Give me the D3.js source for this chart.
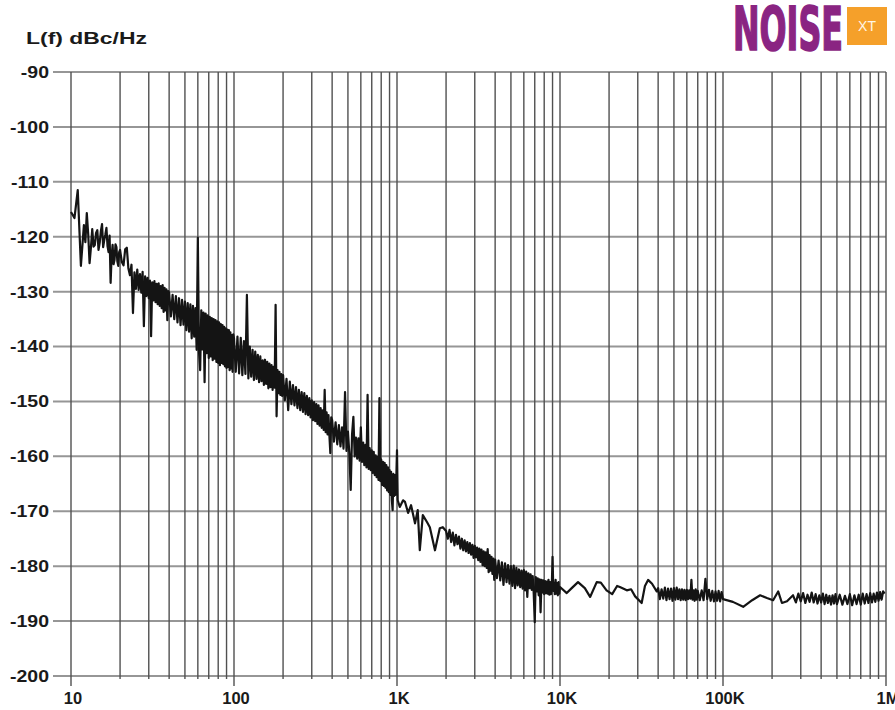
<!DOCTYPE html>
<html>
<head>
<meta charset="utf-8">
<script src="https://cdn.jsdelivr.net/npm/d3@7"></script>
<style>
  body { margin: 0; background: #fff; }
</style>
</head>
<body>
<div id="wrapper"></div>
<script>
// phase noise trace, [offset frequency Hz, L(f) dBc/Hz]
const trace10to100 = [
  [10,-115.5],[10.5,-116.6],[11,-111.5],[11.5,-125.3],[12,-117.9],[12.25,-121.0],[12.5,-115.7],[12.75,-119.5],
  [13,-124.8],[13.25,-122.0],[13.5,-118.6],[13.75,-121.8],[14,-121.5],[14.25,-119.3],[14.5,-118.8],[14.75,-122.4],
  [15,-121.1],[15.25,-119.0],[15.5,-117.7],[15.75,-121.9],[16,-120.6],[16.25,-119.6],[16.5,-118.4],[16.75,-121.7],
  [17,-122.8],[17.25,-119.8],[17.5,-128.4],[17.75,-123.5],[18,-121.5],[18.25,-125.0],[18.5,-124.2],[18.75,-121.4],
  [19,-121.9],[19.25,-124.5],[19.5,-125.3],[19.75,-122.8],[20,-122.4],[20.5,-124.6],[21,-125.2],[21.5,-122.3],
  [22,-122.0],[22.5,-125.8],[23,-127.0],[23.5,-125.1],
  [24,-133.9],[24.5,-126.5],[25,-129.5],[25.5,-126.0],[26,-129.7],[26.5,-126.8],[27,-130.2],[27.5,-126.4],
  [28,-136.3],[28.5,-127.2],[29,-130.8],[29.5,-127.5],[30,-131.2],[30.5,-128.0],[31,-138.1],[31.5,-128.3],
  [32,-131.6],[32.5,-128.1],[33,-131.9],[33.5,-128.6],[34,-132.3],[34.5,-128.5],[35,-132.6],[35.5,-129.0],
  [36,-133.0],[36.5,-128.8],[37,-133.7],[37.5,-129.3],[38,-133.4],[38.5,-129.6],[39,-135.2],[39.5,-129.9],
  [40,-130.2],[41,-134.5],[42,-130.6],[43,-135.0],[44,-130.8],[45,-135.6],[46,-131.2],[47,-136.1],
  [48,-131.5],[49,-136.0],[50,-131.8],[51,-137.0],[52,-132.1],[53,-137.3],[54,-132.3],[55,-138.5],
  [56,-132.6],[57,-138.2],[58,-133.0],[59,-140.6],[60,-120.2],[61,-141.0],[62,-144.3],[63,-133.4],
  [64,-140.5],[65,-133.8],[66,-146.5],[67,-134.0],[68,-141.2],[69,-134.3],[70,-142.1],[71,-134.6],
  [72,-141.8],[73,-134.8],[74,-142.5],[75,-135.0],[76,-142.2],[77,-135.2],[78,-142.8],[79,-135.4],
  [80,-143.0],[81,-135.6],[82,-143.4],[83,-135.9],[84,-143.0],[85,-136.1],[86,-143.2],[87,-136.4],
  [88,-143.6],[89,-136.7],[90,-143.9],[91,-136.9],[92,-143.7],[93,-137.0],[94,-144.3],[95,-137.4],
  [96,-144.0],[97,-137.9],[98,-144.6],[99,-137.8]
]

const trace100to1k = [
  [100,-138.5],[102.5,-144.6],[105,-138.2],[107.5,-144.9],[110,-138.4],[112.5,-145.2],[115,-139.0],[117.5,-145.0],
  [120,-130.6],[122.5,-145.8],[125,-140.0],[127.5,-145.5],[130,-140.6],[132.5,-146.1],[135,-140.9],[137.5,-145.9],
  [140,-141.5],[142.5,-146.5],[145,-141.8],[147.5,-146.3],[150,-142.5],[152.5,-147.0],[155,-142.4],[157.5,-146.8],
  [160,-142.8],[162.5,-147.6],[165,-143.1],[167.5,-147.4],[170,-143.4],[172.5,-147.9],[175,-143.7],[177.5,-147.5],
  [180,-132.4],[182.5,-152.7],[185,-144.3],[187.5,-148.5],[190,-144.6],[192.5,-148.8],[195,-145.0],[197.5,-149.0],
  [200,-145.2],[205,-149.8],[210,-145.9],[215,-151.6],[220,-146.4],[225,-150.5],[230,-147.0],[235,-150.7],
  [240,-147.4],[245,-151.2],[250,-147.9],[255,-151.6],[260,-148.3],[265,-151.9],[270,-148.5],[275,-152.3],
  [280,-149.0],[285,-152.5],[290,-149.4],[295,-152.9],[300,-149.8],[305,-153.4],[310,-150.1],[315,-153.6],
  [320,-150.5],[325,-154.1],[330,-150.7],[335,-154.4],[340,-151.2],[345,-154.8],[350,-151.6],[355,-155.2],
  [360,-147.9],[365,-155.6],[370,-152.0],[375,-156.0],[380,-152.5],[385,-156.3],[390,-159.4],[395,-152.9],
  [400,-153.4],[410,-157.3],[420,-153.8],[430,-157.8],[440,-154.3],[450,-158.2],[460,-154.7],[470,-158.6],
  [480,-148.3],[490,-159.0],[500,-155.5],[510,-159.4],[520,-166.1],[530,-156.0],[540,-152.8],[550,-160.0],
  [560,-156.6],[570,-160.4],[580,-156.7],[590,-160.8],[600,-154.7],[610,-161.0],[620,-157.5],[630,-161.6],
  [640,-157.9],[650,-162.0],[660,-148.8],[670,-162.3],[680,-158.5],[690,-162.5],[700,-158.9],[710,-163.0],
  [720,-159.2],[730,-163.4],[740,-159.8],[750,-163.8],[760,-160.1],[770,-164.3],[780,-149.4],[790,-164.5],
  [800,-160.6],[810,-165.2],[820,-161.0],[830,-165.4],[840,-161.2],[850,-165.7],[860,-161.6],[870,-166.2],
  [880,-162.0],[890,-166.5],[900,-162.5],[910,-167.0],[920,-162.8],[930,-168.0],[940,-169.8],[950,-163.2],
  [960,-167.2],[970,-163.4],[980,-167.0],[990,-164.0],[1000,-158.9],[1010,-168.0]
]

const trace1kto10k = [
  [1040,-169.2],[1090,-168.0],[1120,-168.3],[1170,-170.3],[1220,-168.9],[1290,-172.2],[1340,-169.8],[1380,-177.1],
  [1440,-170.7],[1530,-172.0],[1590,-172.9],[1710,-177.1],[1830,-173.1],[1910,-172.9],
  [2000,-173.6],[2050,-175.0],[2100,-173.4],[2150,-175.6],[2200,-173.9],[2250,-176.2],[2300,-174.3],[2350,-176.0],
  [2400,-174.6],[2450,-176.8],[2500,-175.0],[2550,-177.1],[2600,-175.3],[2650,-177.3],[2700,-175.6],[2750,-177.6],
  [2800,-175.8],[2850,-177.9],[2900,-176.1],[2950,-178.5],[3000,-176.3],[3050,-178.4],[3100,-176.6],[3150,-178.9],
  [3200,-176.8],[3250,-179.2],[3300,-177.0],[3350,-179.8],[3400,-177.3],[3450,-180.0],[3500,-177.5],[3550,-180.3],
  [3600,-176.9],[3650,-181.1],[3700,-178.0],[3750,-180.8],[3800,-178.3],[3850,-181.4],[3900,-178.6],[3950,-182.5],
  [4000,-178.8],[4100,-182.2],[4200,-179.0],[4300,-182.6],[4400,-179.3],[4500,-183.4],[4600,-179.5],[4700,-182.9],
  [4800,-179.8],[4900,-183.2],[5000,-180.0],[5100,-183.6],[5200,-179.9],[5300,-184.0],[5400,-180.3],[5500,-183.5],
  [5600,-180.6],[5700,-183.8],[5800,-180.8],[5900,-184.1],[6000,-180.7],[6100,-184.4],[6200,-181.0],[6300,-185.6],
  [6400,-181.3],[6500,-184.0],[6600,-181.5],[6700,-184.3],[6800,-181.8],[6900,-185.0],[7000,-190.2],[7100,-182.0],
  [7200,-184.6],[7300,-182.2],[7400,-185.3],[7500,-182.4],[7600,-188.4],[7700,-182.5],[7800,-184.8],[7900,-182.6],
  [8000,-185.1],[8100,-182.7],[8200,-184.9],[8300,-182.8],[8400,-185.0],[8500,-182.5],[8600,-185.2],[8700,-182.9],
  [8800,-185.1],[8900,-184.0],[9000,-178.3],[9100,-184.5],[9200,-183.0],[9300,-185.1],[9400,-182.5],[9500,-185.0],
  [9600,-183.1],[9700,-185.3],[9800,-182.9],[9900,-185.0],[10000,-183.8]
]

const trace10kto100k = [
  [11000,-184.9],[11800,-184.0],[12900,-182.9],[14200,-184.0],[15300,-185.6],[16800,-182.9],[17800,-183.0],[19300,-184.4],
  [20900,-185.1],[22400,-183.6],[23300,-183.8],[25700,-184.4],[27300,-184.2],[28900,-185.5],[31700,-186.7],[33200,-183.6],
  [34700,-182.5],[36700,-183.2],[39200,-184.6],
  [40000,-184.0],[41000,-186.0],[42000,-184.2],[43000,-185.9],[44000,-183.9],[45000,-186.2],[46000,-184.1],[47000,-186.0],
  [48000,-184.1],[49000,-186.3],[50000,-184.0],[51000,-186.1],[52000,-183.9],[53000,-186.0],[54000,-184.2],[55000,-186.2],
  [56000,-184.2],[57000,-186.1],[58000,-184.3],[59000,-186.2],[60000,-184.3],[61000,-186.0],[62000,-184.4],[63000,-185.9],
  [64000,-182.5],[65000,-186.1],[66000,-184.4],[67000,-186.3],[68000,-184.2],[69000,-186.1],[70000,-184.5],
  [72000,-186.2],[74000,-184.4],[76000,-186.2],[78000,-182.3],[80000,-186.0],[82000,-184.3],[84000,-186.3],[86000,-184.5],
  [88000,-186.4],[90000,-184.6],[92000,-186.3],[94000,-184.5],[96000,-186.4],[98000,-184.7],[100000,-186.0]
]

const trace100kto1M = [
  [115000,-186.5],[133000,-187.4],[151000,-186.2],[169000,-185.3],[186000,-185.8],[203000,-186.2],[218000,-184.6],[230000,-186.7],
  [247000,-186.4],[269000,-185.3],[280000,-186.6],[290000,-185.0],[300000,-186.4],[310000,-184.9],[320000,-186.7],[330000,-185.2],
  [340000,-186.5],[350000,-184.8],[360000,-186.6],[370000,-185.1],[380000,-186.8],[390000,-185.3],[400000,-186.6],[410000,-185.0],
  [420000,-186.9],[430000,-185.2],[440000,-186.7],[450000,-185.4],[460000,-187.0],[470000,-185.3],[480000,-186.8],[490000,-185.1],
  [500000,-186.9],[520000,-185.2],[540000,-187.0],[560000,-185.4],[580000,-186.9],[600000,-185.1],[620000,-187.1],[640000,-185.3],
  [660000,-186.9],[680000,-185.2],[700000,-187.0],[720000,-185.0],[740000,-186.8],[760000,-185.1],[780000,-186.7],[800000,-184.9],
  [820000,-186.6],[840000,-185.0],[860000,-186.5],[880000,-184.8],[900000,-186.3],[920000,-184.7],[940000,-186.1],[960000,-184.6],
  [980000,-185.0]
]

const xTickValues = [10, 100, 1e3, 1e4, 1e5, 1e6]
const xTickLabels = ['10', '100', '1K', '10K', '100K', '1M']
const yTickValues = [-90, -100, -110, -120, -130, -140, -150, -160, -170, -180, -190, -200]

const trace = [].concat(trace10to100, trace100to1k, trace1kto10k, trace10kto100k, trace100kto1M)

const wrapper = d3.select('#wrapper')
    .append('svg')
        .attr('width', 895)
        .attr('height', 710)
        .style('display', 'block')
        .style('background', '#fff')

const xScale = d3.scaleLog()
    .domain([10, 1e6])
    .range([71, 886])

const yScale = d3.scaleLinear()
    .domain([-90, -200])
    .range([72, 676])

const grid = wrapper.append('g')

// horizontal grid, runs a bit left of the 10 Hz line
grid.selectAll('line.h')
    .data(yTickValues)
    .join('line')
        .attr('class', 'h')
        .attr('x1', 53)
        .attr('x2', xScale(1e6))
        .attr('y1', d => yScale(d))
        .attr('y2', d => yScale(d))
        .attr('stroke', '#969696')
        .attr('stroke-width', 2)

// vertical grid: every 1..9 in each decade
const minor = []
xTickValues.slice(0, -1).forEach(dec => {
    for (let k = 1; k < 10; k++) minor.push(dec * k)
})
minor.push(1e6)

grid.selectAll('line.v')
    .data(minor)
    .join('line')
        .attr('class', 'v')
        .attr('x1', d => xScale(d))
        .attr('x2', d => xScale(d))
        .attr('y1', yScale(-90))
        .attr('y2', d => xTickValues.includes(d) ? 686 : yScale(-200) + 3)
        .attr('stroke', '#505050')
        .attr('stroke-width', 1.4)

// y labels
wrapper.append('g')
    .selectAll('text')
    .data(yTickValues)
    .join('text')
        .attr('x', 49)
        .attr('y', d => yScale(d))
        .attr('dy', '0.36em')
        .attr('text-anchor', 'end')
        .style('font-family', 'Liberation Sans, Arial, sans-serif')
        .style('font-weight', 'bold')
        .style('font-size', '16.5px')
        .style('fill', '#1a1a1a')
        .text(d => d)
        .each(function () {
            const w = this.getComputedTextLength()
            d3.select(this).attr('textLength', w * 1.18).attr('lengthAdjust', 'spacingAndGlyphs')
        })

// x labels
wrapper.append('g')
    .selectAll('text')
    .data(xTickValues)
    .join('text')
        .attr('x', d => xScale(d) + 2)
        .attr('y', 704)
        .attr('text-anchor', 'middle')
        .style('font-family', 'Liberation Sans, Arial, sans-serif')
        .style('font-weight', 'bold')
        .style('font-size', '16.5px')
        .style('fill', '#1a1a1a')
        .text((d, i) => xTickLabels[i])

// axis title
wrapper.append('text')
    .attr('x', 26)
    .attr('y', 44)
    .attr('textLength', 121)
    .attr('lengthAdjust', 'spacingAndGlyphs')
    .style('font-family', 'Liberation Sans, Arial, sans-serif')
    .style('font-weight', 'bold')
    .style('font-size', '16.5px')
    .style('fill', '#1a1a1a')
    .text('L(f) dBc/Hz')

// logo
wrapper.append('text')
    .attr('x', 733)
    .attr('y', 50)
    .attr('textLength', 110)
    .attr('lengthAdjust', 'spacingAndGlyphs')
    .style('font-family', 'DejaVu Sans Condensed, DejaVu Sans, sans-serif')
    .style('font-weight', 'bold')
    .style('font-size', '60px')
    .style('fill', '#8a2482')
    .style('stroke', '#8a2482')
    .style('stroke-width', 1.6)
    .text('NOISE')

wrapper.append('rect')
    .attr('x', 847)
    .attr('y', 7)
    .attr('width', 40)
    .attr('height', 38)
    .attr('fill', '#f5a02a')

wrapper.append('text')
    .attr('x', 867)
    .attr('y', 31)
    .attr('text-anchor', 'middle')
    .style('font-family', 'Liberation Sans, Arial, sans-serif')
    .style('font-size', '14px')
    .style('fill', '#fff6e6')
    .text('XT')

// trace
const line = d3.line()
    .x(d => xScale(d[0]))
    .y(d => yScale(d[1]))

wrapper.append('path')
    .datum(trace)
    .attr('d', line)
    .attr('fill', 'none')
    .attr('stroke', '#141414')
    .attr('stroke-width', 2.2)
    .attr('stroke-linejoin', 'round')
</script>
</body>
</html>
